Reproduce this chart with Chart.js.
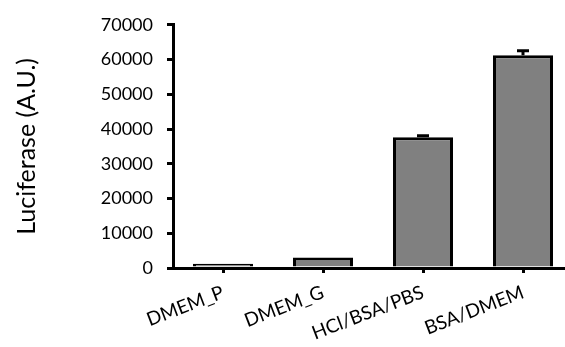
<!DOCTYPE html>
<html>
<head>
<meta charset="utf-8">
<script src="https://cdn.jsdelivr.net/npm/chart.js@4"></script>
<style>
  html, body { margin: 0; padding: 0; background: #fff; overflow: hidden; }
  #wrap { width: 580px; height: 347px; }
</style>
</head>
<body>
<div id="wrap"><canvas id="luciferaseChart" width="580" height="347"></canvas></div>
<script>
const conditions = ['DMEM_P', 'DMEM_G', 'HCl/BSA/PBS', 'BSA/DMEM'];
const luciferase = [1200, 3000, 37600, 61200];
const luciferaseErr = [0, 0, 500, 1300];
const yTicks = [0, 10000, 20000, 30000, 40000, 50000, 60000, 70000];

const labelFont = "Lato, 'Open Sans', sans-serif";

// draw the upper error bars with a small cap
const errorBars = {
    id: 'errorBars',
    afterDatasetsDraw(chart) {
        const ctx = chart.ctx;
        const yScale = chart.scales.y;
        const meta = chart.getDatasetMeta(0);
        ctx.save();
        ctx.strokeStyle = '#000';
        ctx.lineWidth = 3;
        meta.data.forEach((bar, i) => {
            if (!luciferaseErr[i]) return;
            const top = yScale.getPixelForValue(luciferase[i] + luciferaseErr[i]);
            const base = yScale.getPixelForValue(luciferase[i]);
            ctx.beginPath();
            ctx.moveTo(bar.x, base);
            ctx.lineTo(bar.x, top);
            ctx.moveTo(bar.x - 6, top);
            ctx.lineTo(bar.x + 6, top);
            ctx.stroke();
        });
        ctx.restore();
    }
};

const ctx = document.getElementById('luciferaseChart').getContext('2d');
new Chart(ctx, {
    type: 'bar',
    data: {
        labels: conditions,
        datasets: [{
            data: luciferase,
            backgroundColor: '#808080',
            borderColor: '#000',
            borderWidth: 3,
            barPercentage: 0.6,
            categoryPercentage: 1
        }]
    },
    options: {
        responsive: false,
        animation: false,
        layout: { padding: { top: 18, right: 7, left: 12, bottom: 0 } },
        plugins: { legend: { display: false }, tooltip: { enabled: false } },
        scales: {
            x: {
                offset: true,
                grid: { offset: false, drawOnChartArea: false, tickLength: 5, lineWidth: 3, color: '#000' },
                border: { display: true, width: 3, color: '#000' },
                ticks: {
                    color: '#000',
                    font: { family: labelFont, size: 19 },
                    minRotation: 21,
                    maxRotation: 21,
                    padding: 8
                },
                afterFit: s => { s.height = 79; }
            },
            y: {
                min: 0,
                max: 70000,
                afterBuildTicks: s => { s.ticks = yTicks.map(v => ({ value: v })); },
                grid: { drawOnChartArea: false, tickLength: 6, lineWidth: 3, color: '#000' },
                border: { display: true, width: 3, color: '#000' },
                ticks: {
                    color: '#000',
                    font: { family: labelFont, size: 18 },
                    padding: 14,
                    callback: v => String(v)
                },
                title: {
                    display: true,
                    text: 'Luciferase (A.U.)',
                    color: '#000',
                    font: { family: labelFont, size: 25 },
                    padding: 0
                },
                afterFit: s => { s.width = 161; }
            }
        }
    },
    plugins: [errorBars]
});
</script>
</body>
</html>
